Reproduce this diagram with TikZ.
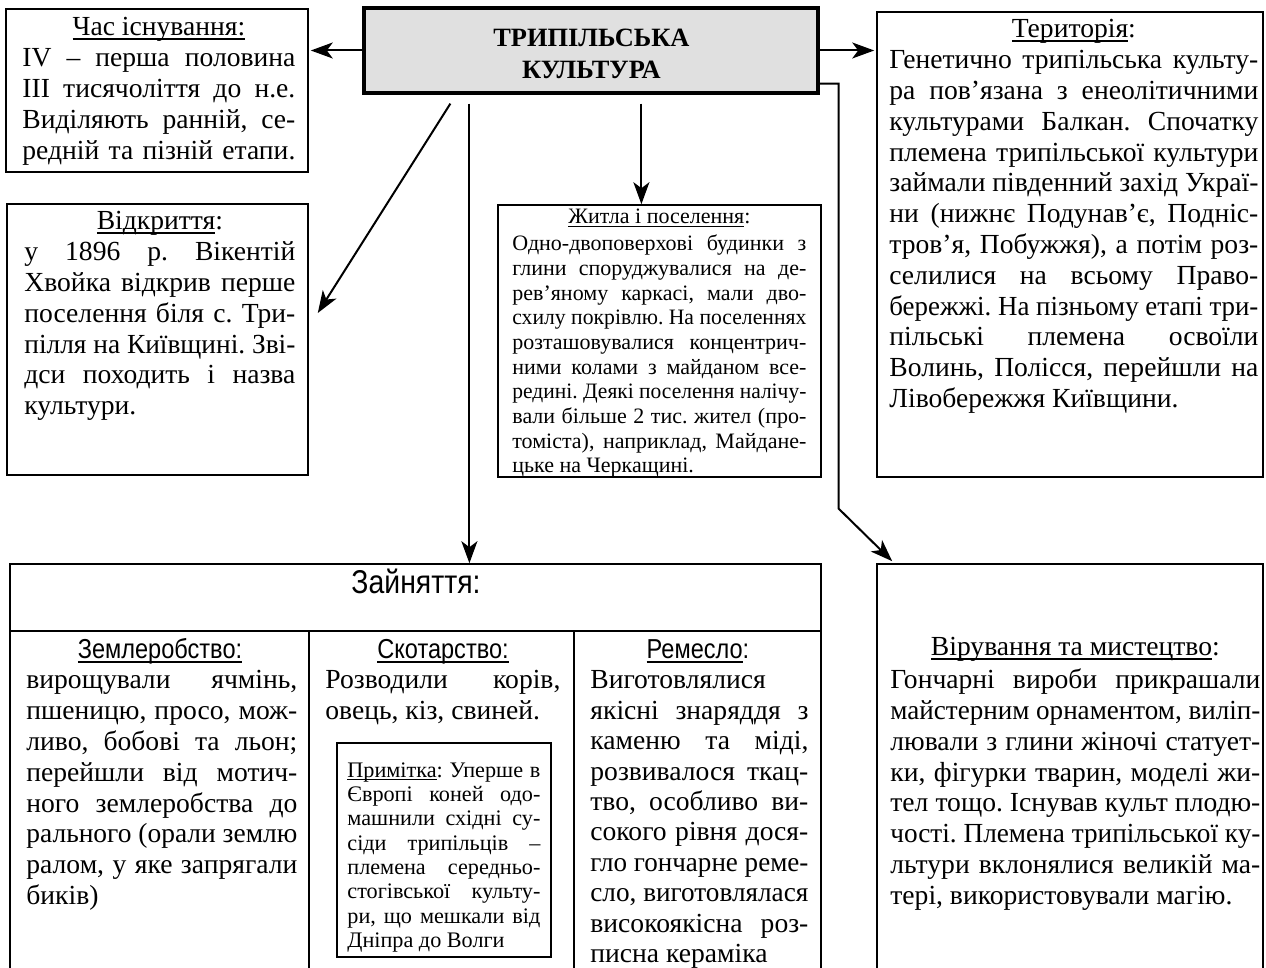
\documentclass[tikz,border=0pt]{standalone}
\usepackage{fontspec}
\setmainfont{Liberation Serif}
\newfontfamily\sansn[FakeStretch=0.86]{Liberation Sans}
\usepackage{graphicx}
\usetikzlibrary{arrows.meta,calc,fit}
\frenchspacing
\newcommand\ulx[1]{\setbox2\hbox{#1}\rlap{\rule[-0.14em]{\wd2}{0.06em}}\box2}
\newcommand\JL[1]{\setbox0\hbox{#1}\ifdim\wd0>\hsize\hbox{\resizebox{\hsize}{\height}{\box0}}\else\hbox to\hsize{#1}\fi}
\newcommand\LL[1]{\setbox0\hbox{#1}\ifdim\wd0>\hsize\hbox{\resizebox{\hsize}{\height}{\box0}}\else\hbox to\hsize{#1\hfil}\fi}
\newcommand\CL[1]{\hbox to\hsize{\hfil#1\hfil}}
\newcommand\tb[2]{\vtop{\hsize=#1pt\relax\lineskiplimit=-50pt\lineskip=0pt\frenchspacing#2}}
\newcommand\bodyfont{\fontsize{13.8}{15.4}\selectfont}
\tikzset{
  boxf/.style={draw, line width=0.8pt, inner sep=0pt},
  arr/.style={line width=1pt, -{Stealth[length=11pt,width=8pt,inset=3pt]}},
  txt/.style={anchor=base west, inner sep=0pt, font=\bodyfont},
  smalltxt/.style={anchor=base west, inner sep=0pt, font=\fontsize{11}{12.35}\selectfont},
  notetxt/.style={anchor=base west, inner sep=0pt, font=\fontsize{11.1}{12.2}\selectfont},
  colhd/.style={anchor=base, inner sep=0pt, font=\sansn\fontsize{13.7}{15}\selectfont},
}
\begin{document}
\begin{tikzpicture}[x=0.5pt,y=-0.5pt]
\useasboundingbox (0,0) rectangle (1266,968);
\clip (0,0) rectangle (1266,968);

% boxes
\node[boxf, fit={(364,8) (818,93)}, line width=1.6pt, fill=black!12] (title) {};
\node[boxf, fit={(6,9) (308,172)}] (cas) {};
\node[boxf, fit={(7,204) (308,475)}] (vid) {};
\node[boxf, fit={(498,205) (821,477)}] (zh) {};
\node[boxf, fit={(877,12) (1263,477)}] (ter) {};
\node[boxf, fit={(10,564) (821,985)}] (zan) {};
\node[boxf, fit={(877,564) (1263,985)}] (vir) {};
\node[boxf, fit={(337,743) (551,957)}, line width=1pt] (prim) {};

\draw[line width=0.8pt] ($(zan.north west)+(0,68)$) -- ($(zan.north east)+(0,68)$);
\draw[line width=0.8pt] ($(zan.north west)+(300,68)$) -- ($(zan.south west)+(300,0)$);
\draw[line width=0.8pt] ($(zan.north west)+(565,68)$) -- ($(zan.south west)+(565,0)$);

% title text
\node[anchor=base west, inner sep=0pt, font=\bfseries\fontsize{13.2}{16}\selectfont] (titleT) at (364,46.5)
  {\tb{227}{\CL{ТРИПІЛЬСЬКА}\CL{КУЛЬТУРА}}};

% connectors
\draw[arr, shorten >=1pt] (title.west) -- (title.west -| cas.east);
\draw[arr, shorten >=1pt] (title.east) -- (title.east -| ter.west);
\coordinate (dA) at ($(title.south west)+(88,9)$);
\coordinate (dB) at ($(vid.east)+(9,-26.5)$);
\draw[arr] (dA) -- (dB);
\coordinate (vA) at ($(title.south west)+(107,9)$);
\draw[arr] (vA) -- (vA |- zan.north);
\coordinate (zA) at ($(title.south west)+(279,9)$);
\draw[arr] (zA) -- (zA |- zh.north);
\coordinate (rA) at ($(title.south east)+(0,-11)$);
\coordinate (rB) at ($(vir.north west)+(16,-2)$);
\draw[arr] (rA) -- ++(19,0) -- ++(0,425) -- (rB);

% Час існування
\node[txt] (casT) at (22,36) {\tb{136.5}{%
\CL{\ulx{Час існування:}}
\JL{IV – перша половина}
\JL{III тисячоліття до н.е.}
\JL{Виділяють ранній, се-}
\JL{редній та пізній етапи.}}};

% Відкриття
\node[txt] (vidT) at (24,230) {\tb{135.5}{%
\CL{\ulx{Відкриття}:}
\JL{у 1896 р. Вікентій}
\JL{Хвойка відкрив перше}
\JL{поселення біля с. Три-}
\JL{пілля на Київщині. Зві-}
\JL{дси походить і назва}
\LL{культури.}}};

% Територія
\node[txt] (terT) at (889,38) {\tb{184.5}{%
\CL{\ulx{Територія}:}
\JL{Генетично трипільська культу-}
\JL{ра пов’язана з енеолітичними}
\JL{культурами Балкан. Спочатку}
\JL{племена трипільської культури}
\JL{займали південний захід Украї-}
\JL{ни (нижнє Подунав’є, Подніс-}
\JL{тров’я, Побужжя), а потім роз-}
\JL{селилися на всьому Право-}
\JL{бережжі. На пізньому етапі три-}
\JL{пільські племена освоїли}
\JL{Волинь, Полісся, перейшли на}
\LL{Лівобережжя Київщини.}}};

% Житла
\node[smalltxt] (zhT) at (512,224) {\tb{147}{%
\CL{\ulx{Житла і поселення}:}
\vskip1pt
\JL{Одно-двоповерхові будинки з}
\JL{глини споруджувалися на де-}
\JL{рев’яному каркасі, мали дво-}
\JL{схилу покрівлю. На поселеннях}
\JL{розташовувалися концентрич-}
\JL{ними колами з майданом все-}
\JL{редині. Деякі поселення налічу-}
\JL{вали більше 2 тис. жител (про-}
\JL{томіста), наприклад, Майдане-}
\LL{цьке на Черкащині.}}};

% Зайняття
\node[anchor=base, inner sep=0pt, font=\sansn\fontsize{16.5}{18}\selectfont] (zanH) at (416,594) {Зайняття:};
\node[colhd] (h1) at (160,659) {\ulx{Землеробство:}};
\node[colhd] (h2) at (443,659) {\ulx{Скотарство:}};
\node[colhd] (h3) at (698,659) {\ulx{Ремесло}:};

\node[txt] (c1) at (26,689) {\tb{135.5}{%
\JL{вирощували ячмінь,}
\JL{пшеницю, просо, мож-}
\JL{ливо, бобові та льон;}
\JL{перейшли від мотич-}
\JL{ного землеробства до}
\JL{рального (орали землю}
\JL{ралом, у яке запрягали}
\LL{биків)}}};

\node[txt] (c2) at (325,689) {\tb{117.5}{%
\JL{Розводили корів,}
\LL{овець, кіз, свиней.}}};

\node[notetxt] (primT) at (347,777) {\tb{96.5}{%
\JL{\ulx{Примітка}: Уперше в}
\JL{Європі коней одо-}
\JL{машнили східні су-}
\JL{сіди трипільців –}
\JL{племена середньо-}
\JL{стогівської культу-}
\JL{ри, що мешкали від}
\LL{Дніпра до Волги}}};

\node[txt, font=\fontsize{13.8}{15.2}\selectfont] (c3) at (590,689) {\tb{109}{%
\LL{Виготовлялися}
\JL{якісні знаряддя з}
\JL{каменю та міді,}
\JL{розвивалося ткац-}
\JL{тво, особливо ви-}
\JL{сокого рівня дося-}
\JL{гло гончарне реме-}
\JL{сло, виготовлялася}
\JL{високоякісна роз-}
\LL{писна кераміка}}};

% Вірування
\node[txt] (virT) at (890,656) {\tb{185}{%
\CL{\ulx{Вірування та мистецтво}:}
\vskip1pt
\JL{Гончарні вироби прикрашали}
\JL{майстерним орнаментом, виліп-}
\JL{лювали з глини жіночі статует-}
\JL{ки, фігурки тварин, моделі жи-}
\JL{тел тощо. Існував культ плодю-}
\JL{чості. Племена трипільської ку-}
\JL{льтури вклонялися великій ма-}
\LL{тері, використовували магію.}}};
\end{tikzpicture}
\end{document}
